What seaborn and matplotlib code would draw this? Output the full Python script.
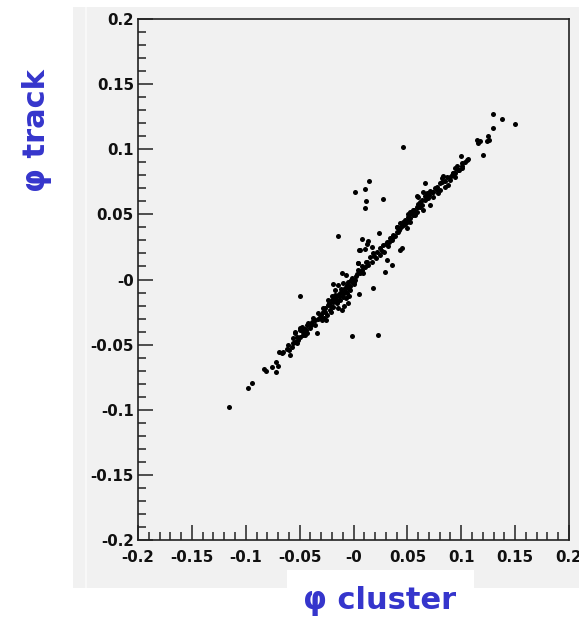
import matplotlib
matplotlib.use("Agg")
import matplotlib.pyplot as plt
from matplotlib.patches import Rectangle
from matplotlib.ticker import MultipleLocator
import seaborn as sns
import pandas as pd

# ---- data ----
phi_cluster = [
    -0.1153, -0.0982, -0.0945, -0.0828, -0.0815, -0.0759, -0.0719, -0.0719, -0.0698, -0.0694,
    -0.0666, -0.0589, -0.0620, -0.0605, -0.0574, -0.0559, -0.0543, -0.0512, -0.0543, -0.0497,
    -0.0481, -0.0450, -0.0434, -0.0466, -0.0429, -0.0497, -0.0522, -0.0543, -0.0527, -0.0497,
    -0.0466, -0.0450, -0.0419, -0.0388, -0.0373, -0.0357, -0.0342, -0.0327, -0.0311, -0.0295,
    -0.0280, -0.0264, -0.0249, -0.0234, -0.0218, -0.0202, -0.0187, -0.0172, -0.0156, -0.0141,
    -0.0125, -0.0110, -0.0095, -0.0079, -0.0063, -0.0048, -0.0032, -0.0497, -0.0187, -0.0110,
    -0.0070, -0.0017, 0.0014, 0.0054, -0.0017, 0.0045, 0.0076, 0.0107, 0.0123, 0.0060,
    0.0091, 0.0060, -0.0048, -0.0110, 0.0144, 0.0014, 0.0107, 0.0277, 0.0113, 0.0107,
    0.0587, 0.0240, 0.0076, 0.0137, 0.0123, 0.0054, 0.0107, 0.0169, 0.0045, 0.0116,
    0.0308, 0.0355, 0.0432, 0.0447, 0.0153, 0.0184, 0.0215, 0.0246, 0.0277, 0.0308,
    0.0339, 0.0369, 0.0401, 0.0432, 0.0462, 0.0494, 0.0524, 0.0555, 0.0587, 0.0601,
    0.0524, 0.0401, 0.0457, 0.0998, 0.1051, 0.1004, 0.0973, 0.0942, 0.0921, 0.0834,
    0.0819, 0.0865, 0.0664, 0.0648, 0.0679, 0.0710, 0.0601, 0.0617, 0.0664, 0.0694,
    0.0741, 0.0787, 0.0803, 0.0880, 0.0849, 0.0772, 0.0741, 0.0710, 0.0524, 0.0555,
    0.0587, 0.0571, 0.0509, 0.0478, 0.0432, 0.0401, 0.0524, 0.0494, 0.0633, 0.0648,
    0.1298, 0.1381, 0.1499, 0.1292, 0.1251, 0.1260, 0.1236, 0.1144, 0.1158, 0.1174,
    0.1205, 0.1066, 0.1035, 0.1004, 0.1004, 0.0982, 0.0926, 0.0942, 0.0896, -0.0147,
    0.0178, 0.0292, 0.0230, -0.0172, -0.0144, -0.0125, -0.0097, -0.0070, -0.0051, -0.0032,
    -0.0014, -0.0153, -0.0200, -0.0088, -0.0144, -0.0237, -0.0209, -0.0255, -0.0274, 0.0005,
    0.0023, 0.0042, -0.0042, 0.0320, 0.0357, 0.0385, 0.0413, 0.0450, 0.0478, 0.0506,
    0.0543, 0.0599, 0.0636, 0.0682, 0.0729, 0.0775, 0.0821, 0.0896, 0.0942, 0.0283,
    0.0246, 0.0209, 0.0172,
    -0.0390, -0.0360, -0.0330, -0.0300, -0.0280, -0.0260, -0.0230, -0.0210, -0.0190, -0.0170,
    -0.0160, -0.0130, -0.0120, -0.0100, -0.0080, -0.0060, -0.0040, -0.0020, 0.0000, 0.0030,
    0.0080, 0.0130, 0.0190, 0.0260, 0.0300, 0.0330, 0.0370, 0.0420, 0.0460, 0.0510,
    0.0560, 0.0620, 0.0660, 0.0700, 0.0760, 0.0800, 0.0850, 0.0910, 0.0960, -0.0600,
    -0.0650, -0.0560, -0.0470, -0.0440, -0.0400,
]
phi_track = [
    -0.0977, -0.0835, -0.0797, -0.0689, -0.0700, -0.0669, -0.0712, -0.0631, -0.0662, -0.0559,
    -0.0567, -0.0580, -0.0536, -0.0503, -0.0516, -0.0451, -0.0478, -0.0464, -0.0408, -0.0388,
    -0.0367, -0.0382, -0.0413, -0.0426, -0.0349, -0.0439, -0.0485, -0.0401, -0.0439, -0.0375,
    -0.0388, -0.0426, -0.0336, -0.0324, -0.0298, -0.0349, -0.0413, -0.0260, -0.0286, -0.0311,
    -0.0247, -0.0221, -0.0273, -0.0196, -0.0234, -0.0157, -0.0209, -0.0144, -0.0183, -0.0119,
    -0.0157, -0.0094, -0.0132, -0.0068, -0.0106, -0.0055, -0.0081, -0.0124, -0.0037, 0.0052,
    0.0035, -0.0017, -0.0004, -0.0111, -0.0434, 0.0124, 0.0073, 0.0098, 0.0137, 0.0048,
    0.0048, 0.0226, -0.0183, -0.0234, 0.0756, 0.0670, 0.0695, 0.0620, 0.0603, 0.0551,
    0.0641, 0.0359, 0.0311, 0.0298, 0.0273, 0.0226, 0.0232, 0.0247, 0.0129, 0.0137,
    0.0150, 0.0111, 0.0226, 0.0239, 0.0175, 0.0201, 0.0213, 0.0239, 0.0265, 0.0290,
    0.0316, 0.0342, 0.0367, 0.0393, 0.0418, 0.0444, 0.0470, 0.0495, 0.0521, 0.0559,
    0.0508, 0.0405, 0.1015, 0.0948, 0.0917, 0.0871, 0.0841, 0.0815, 0.0820, 0.0795,
    0.0777, 0.0789, 0.0739, 0.0674, 0.0662, 0.0682, 0.0631, 0.0597, 0.0610, 0.0623,
    0.0636, 0.0662, 0.0687, 0.0726, 0.0712, 0.0712, 0.0674, 0.0572, 0.0521, 0.0534,
    0.0559, 0.0495, 0.0478, 0.0457, 0.0431, 0.0401, 0.0444, 0.0393, 0.0572, 0.0534,
    0.1271, 0.1232, 0.1194, 0.1161, 0.1102, 0.1071, 0.1066, 0.1071, 0.1046, 0.1066,
    0.0956, 0.0923, 0.0904, 0.0892, 0.0854, 0.0841, 0.0815, 0.0789, 0.0785, 0.0334,
    -0.0068, 0.0058, -0.0426, -0.0081, -0.0042, -0.0104, -0.0027, -0.0142, -0.0019, -0.0050,
    0.0012, -0.0173, -0.0127, -0.0203, -0.0219, -0.0157, -0.0250, -0.0311, -0.0296, -0.0035,
    0.0027, 0.0073, -0.0127, 0.0257, 0.0303, 0.0334, 0.0365, 0.0411, 0.0426, 0.0503,
    0.0518, 0.0580, 0.0610, 0.0641, 0.0672, 0.0687, 0.0749, 0.0764, 0.0856, 0.0211,
    0.0188, 0.0165, 0.0134,
    -0.0350, -0.0310, -0.0300, -0.0270, -0.0220, -0.0250, -0.0180, -0.0200, -0.0170, -0.0120,
    -0.0150, -0.0130, -0.0070, -0.0110, -0.0090, -0.0040, -0.0070, 0.0000, -0.0020, 0.0040,
    0.0100, 0.0110, 0.0180, 0.0220, 0.0270, 0.0290, 0.0330, 0.0380, 0.0440, 0.0460,
    0.0530, 0.0560, 0.0640, 0.0650, 0.0700, 0.0740, 0.0760, 0.0800, 0.0870, -0.0540,
    -0.0560, -0.0490, -0.0400, -0.0390, -0.0370,
]
tick_values = [-0.2, -0.15, -0.1, -0.05, 0.0, 0.05, 0.1, 0.15, 0.2]
tick_labels = ["-0.2", "-0.15", "-0.1", "-0.05", "-0", "0.05", "0.1", "0.15", "0.2"]
x_label = "φ cluster"
y_label = "φ track"

df = pd.DataFrame({"phi_cluster": phi_cluster, "phi_track": phi_track})

W, H = 579, 619
fig = plt.figure(figsize=(W / 100, H / 100), dpi=100)
fig.patch.set_facecolor("white")

PANEL = "#f1f1f1"
def fx(px):
    return px / W
def fy(py):
    return 1 - py / H

# grey ROOT canvas
fig.patches.append(Rectangle((fx(73), fy(588)), fx(579) - fx(73), fy(7) - fy(588),
                             transform=fig.transFigure, facecolor=PANEL, edgecolor="none", zorder=0))
fig.patches.append(Rectangle((fx(85), fy(588)), fx(2), fy(7) - fy(588),
                             transform=fig.transFigure, facecolor="#f8f8f8", edgecolor="none", zorder=0))
# white box behind x label
fig.patches.append(Rectangle((fx(287), 0), fx(474) - fx(287), fy(570),
                             transform=fig.transFigure, facecolor="white", edgecolor="none", zorder=1))

ax = fig.add_axes([fx(138), fy(540), fx(569) - fx(138), fy(19) - fy(540)])
ax.set_facecolor(PANEL)
ax.set_zorder(2)

sns.scatterplot(data=df, x="phi_cluster", y="phi_track", ax=ax, color="black",
                s=13, linewidth=0, legend=False)

ax.set_xlim(-0.2, 0.2)
ax.set_ylim(-0.2, 0.2)
ax.set_xticks(tick_values, tick_labels)
ax.set_yticks(tick_values, tick_labels)
ax.xaxis.set_minor_locator(MultipleLocator(0.01))
ax.yaxis.set_minor_locator(MultipleLocator(0.01))
ax.tick_params(which="both", direction="in", color="#222222", width=1.1,
               top=False, right=False)
ax.tick_params(which="major", length=10.5)
ax.tick_params(which="minor", length=5.5)
ax.tick_params(axis="x", which="major", pad=7)
ax.tick_params(axis="y", which="major", pad=3)
for lab in ax.get_xticklabels() + ax.get_yticklabels():
    lab.set_fontfamily("DejaVu Sans")
    lab.set_fontweight("bold")
    lab.set_fontsize(10.8)
    lab.set_color("#111111")
for sp in ax.spines.values():
    sp.set_color("#222222")
    sp.set_linewidth(1.2)
ax.set_xlabel("")
ax.set_ylabel("")

BLUE = "#3535cc"
fig.text(fx(380), fy(601), x_label, ha="center", va="center", color=BLUE,
         fontsize=22, fontweight="bold", family="DejaVu Sans", zorder=5)
fig.text(fx(37), fy(131), y_label, ha="center", va="center", rotation=90, color=BLUE,
         fontsize=22, fontweight="bold", family="DejaVu Sans", zorder=5)

fig.savefig("out.png", dpi=100, facecolor="white")
